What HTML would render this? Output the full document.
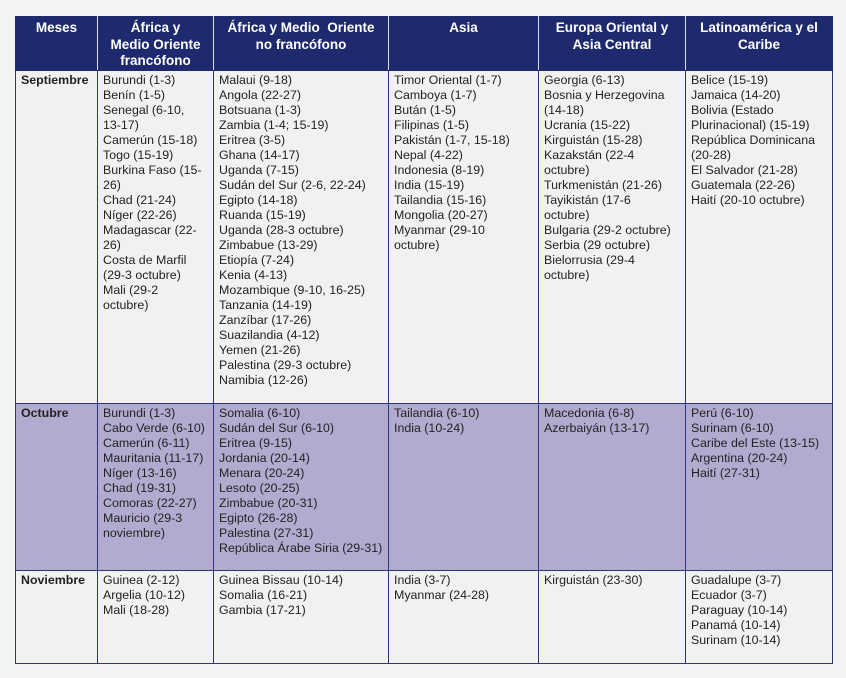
<!DOCTYPE html>
<html><head><meta charset="utf-8"><style>
html,body{margin:0;padding:0;background:#f3f3f3;width:846px;height:678px;overflow:hidden}
table{position:absolute;left:15px;top:16px;border-collapse:collapse;table-layout:fixed;font-family:"Liberation Sans",sans-serif;font-size:12.4px;line-height:15px;color:#222}
td,th{border:1.5px solid #2b3580;vertical-align:top;padding:2px 5px 0 5px;overflow:hidden;white-space:nowrap}
th{background:#1f2a6e;color:#fff;font-weight:bold;text-align:center;font-size:13.5px;line-height:16.5px;padding-top:3px;border-color:#1f2a6e;border-right-color:#dcdcef}
th:last-child{border-right-color:#1f2a6e}
td{background:#f1f1f1}
tr.oct td{background:#b3aacf}
td.m{font-weight:bold}
</style></head><body>
<table>
<colgroup><col style="width:82px"><col style="width:116px"><col style="width:175px"><col style="width:150px"><col style="width:147px"><col style="width:147px"></colgroup>
<tr style="height:53px"><th>Meses</th><th>África y<br>Medio Oriente<br>francófono</th><th>África y Medio&nbsp; Oriente<br>no francófono</th><th>Asia</th><th>Europa Oriental y<br>Asia Central</th><th>Latinoamérica y el<br>Caribe</th></tr>
<tr style="height:333px"><td class="m">Septiembre</td>
<td>Burundi (1-3)<br>Benín (1-5)<br>Senegal (6-10,<br>13-17)<br>Camerún (15-18)<br>Togo (15-19)<br>Burkina Faso (15-<br>26)<br>Chad (21-24)<br>Níger (22-26)<br>Madagascar (22-<br>26)<br>Costa de Marfil<br>(29-3 octubre)<br>Mali (29-2<br>octubre)</td>
<td>Malaui (9-18)<br>Angola (22-27)<br>Botsuana (1-3)<br>Zambia (1-4; 15-19)<br>Eritrea (3-5)<br>Ghana (14-17)<br>Uganda (7-15)<br>Sudán del Sur (2-6, 22-24)<br>Egipto (14-18)<br>Ruanda (15-19)<br>Uganda (28-3 octubre)<br>Zimbabue (13-29)<br>Etiopía (7-24)<br>Kenia (4-13)<br>Mozambique (9-10, 16-25)<br>Tanzania (14-19)<br>Zanzíbar (17-26)<br>Suazilandia (4-12)<br>Yemen (21-26)<br>Palestina (29-3 octubre)<br>Namibia (12-26)</td>
<td>Timor Oriental (1-7)<br>Camboya (1-7)<br>Bután (1-5)<br>Filipinas (1-5)<br>Pakistán (1-7, 15-18)<br>Nepal (4-22)<br>Indonesia (8-19)<br>India (15-19)<br>Tailandia (15-16)<br>Mongolia (20-27)<br>Myanmar (29-10<br>octubre)</td>
<td>Georgia (6-13)<br>Bosnia y Herzegovina<br>(14-18)<br>Ucrania (15-22)<br>Kirguistán (15-28)<br>Kazakstán (22-4<br>octubre)<br>Turkmenistán (21-26)<br>Tayikistán (17-6<br>octubre)<br>Bulgaria (29-2 octubre)<br>Serbia (29 octubre)<br>Bielorrusia (29-4<br>octubre)</td>
<td>Belice (15-19)<br>Jamaica (14-20)<br>Bolivia (Estado<br>Plurinacional) (15-19)<br>República Dominicana<br>(20-28)<br>El Salvador (21-28)<br>Guatemala (22-26)<br>Haití (20-10 octubre)</td></tr>
<tr class="oct" style="height:167px"><td class="m">Octubre</td>
<td>Burundi (1-3)<br>Cabo Verde (6-10)<br>Camerún (6-11)<br>Mauritania (11-17)<br>Níger (13-16)<br>Chad (19-31)<br>Comoras (22-27)<br>Mauricio (29-3<br>noviembre)</td>
<td>Somalia (6-10)<br>Sudán del Sur (6-10)<br>Eritrea (9-15)<br>Jordania (20-14)<br>Menara (20-24)<br>Lesoto (20-25)<br>Zimbabue (20-31)<br>Egipto (26-28)<br>Palestina (27-31)<br>República Árabe Siria (29-31)</td>
<td>Tailandia (6-10)<br>India (10-24)</td>
<td>Macedonia (6-8)<br>Azerbaiyán (13-17)</td>
<td>Perú (6-10)<br>Surinam (6-10)<br>Caribe del Este (13-15)<br>Argentina (20-24)<br>Haití (27-31)</td></tr>
<tr style="height:93px"><td class="m">Noviembre</td>
<td>Guinea (2-12)<br>Argelia (10-12)<br>Mali (18-28)</td>
<td>Guinea Bissau (10-14)<br>Somalia (16-21)<br>Gambia (17-21)</td>
<td>India (3-7)<br>Myanmar (24-28)</td>
<td>Kirguistán (23-30)</td>
<td>Guadalupe (3-7)<br>Ecuador (3-7)<br>Paraguay (10-14)<br>Panamá (10-14)<br>Surinam (10-14)</td></tr>
</table>
</body></html>
